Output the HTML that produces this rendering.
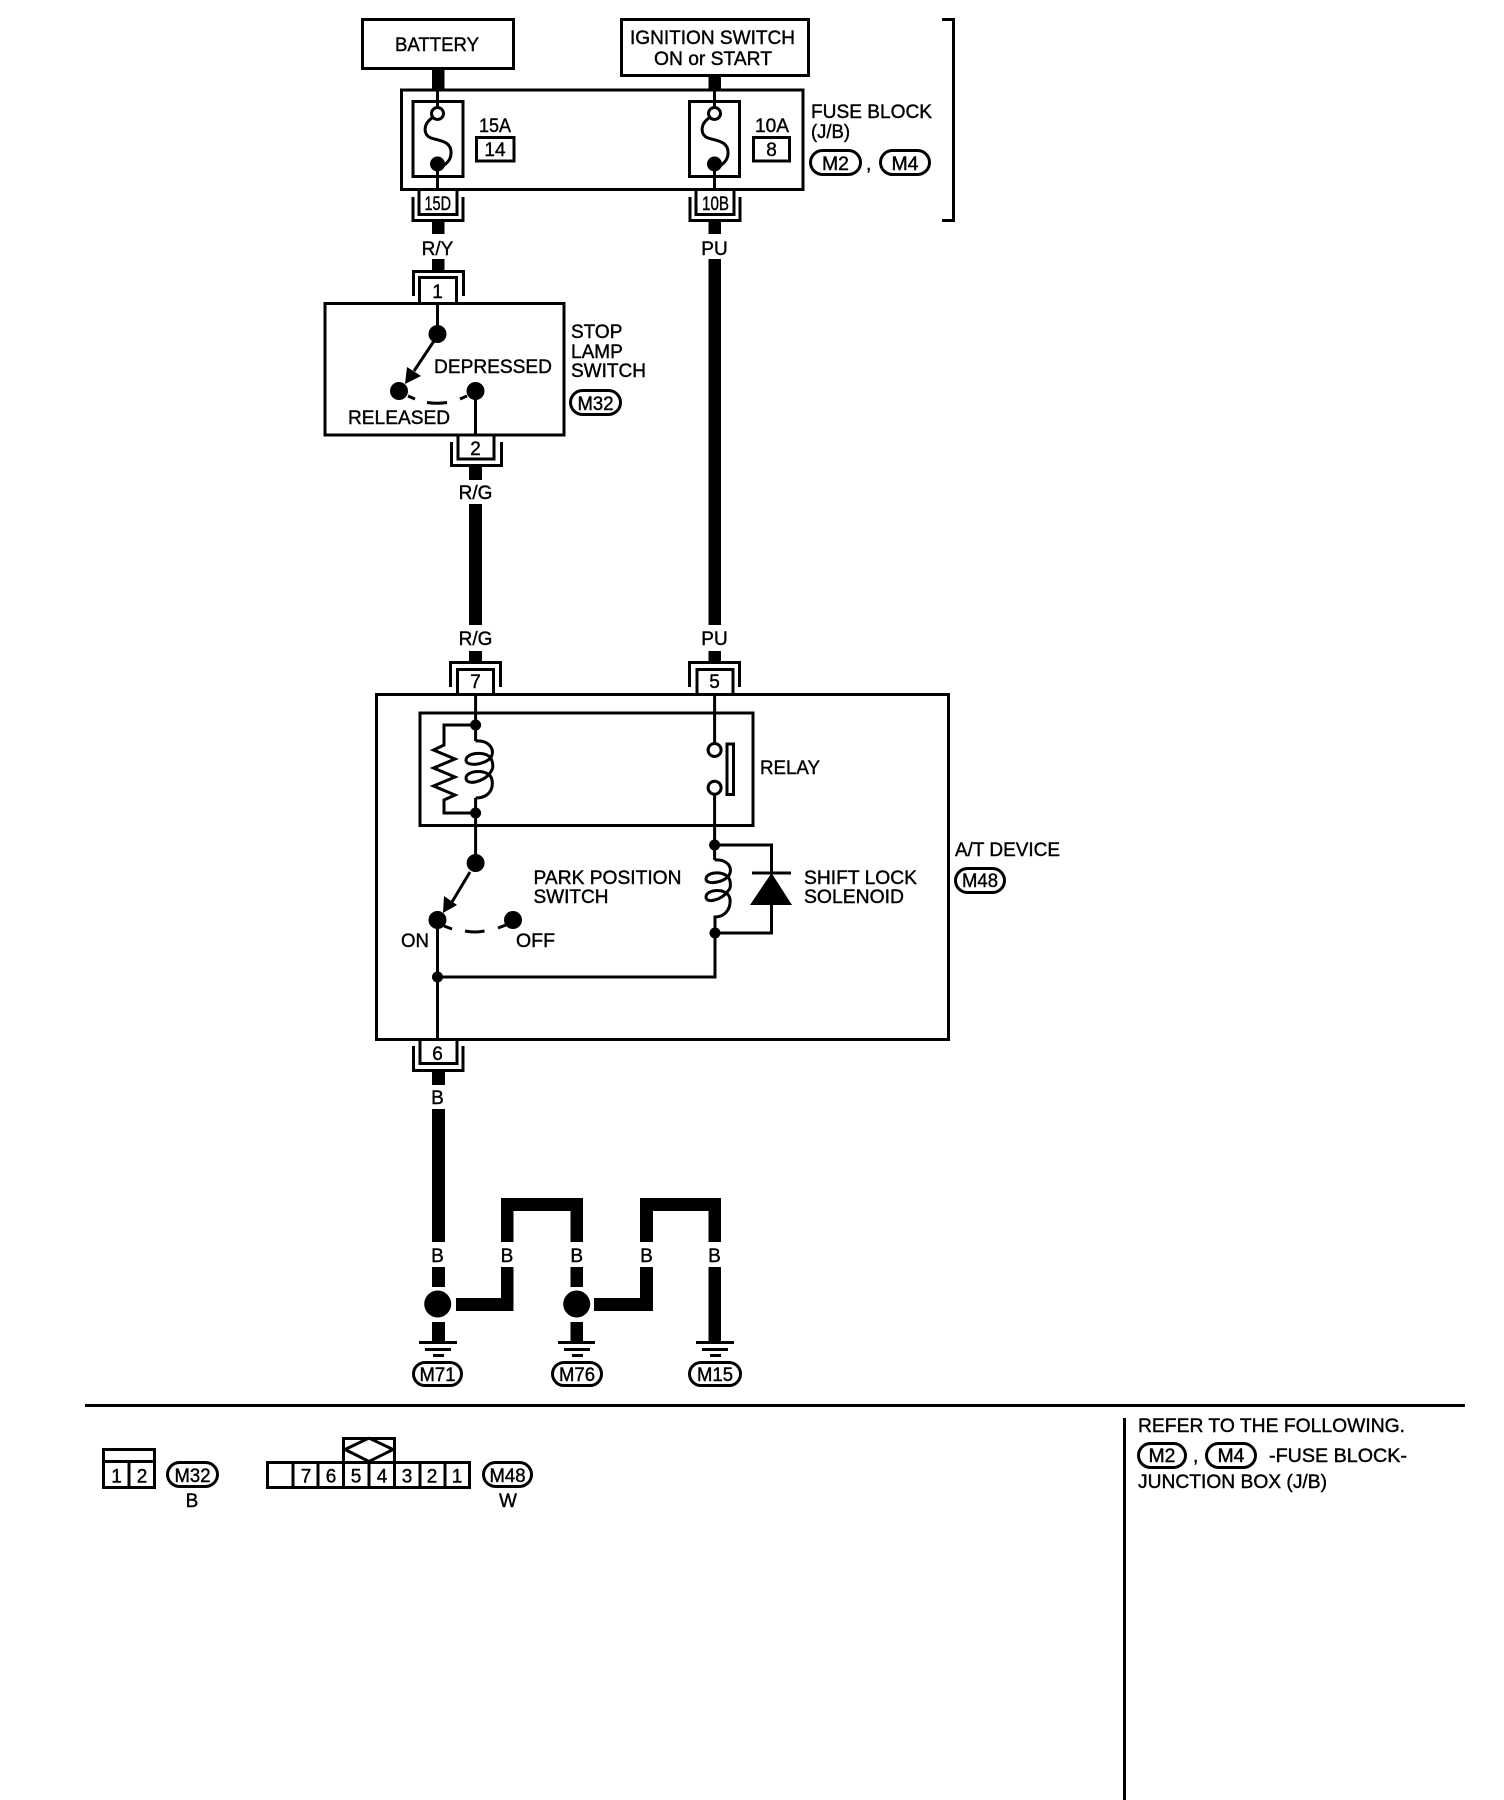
<!DOCTYPE html>
<html><head><meta charset="utf-8"><style>
html,body{margin:0;padding:0;background:#fff}
svg{display:block}
text{font-family:"Liberation Sans",sans-serif;font-size:19px;fill:#000;stroke:#000;stroke-width:.4}
.m{text-anchor:middle}
.l{fill:none;stroke:#000;stroke-width:3}
.t{fill:none;stroke:#000;stroke-width:3}
.p{fill:#fff;stroke:#000;stroke-width:3}
</style></head><body>
<svg width="1504" height="1800" viewBox="0 0 1504 1800" xmlns="http://www.w3.org/2000/svg">
<rect width="1504" height="1800" fill="#fff"/>
<!-- thick wires -->
<g fill="#000">
<rect x="432" y="70" width="12.5" height="20"/><rect x="708.5" y="77" width="12.5" height="13"/>
<rect x="432" y="222" width="12.5" height="12"/><rect x="708.5" y="222" width="12.5" height="12"/>
<rect x="432" y="259" width="12.5" height="12"/><rect x="708.5" y="259" width="12.5" height="366"/>
<rect x="469" y="467" width="13" height="13"/><rect x="469" y="504" width="13" height="121"/>
<rect x="469" y="651" width="13" height="11"/><rect x="708.5" y="651" width="12.5" height="11"/>
<rect x="432" y="1072" width="13" height="13"/><rect x="432" y="1109" width="13" height="133"/>
<rect x="432" y="1267" width="13" height="20"/><rect x="432" y="1322" width="13" height="20"/>
<rect x="456" y="1298" width="57" height="13"/><rect x="501" y="1267" width="12.5" height="44"/>
<path d="M501 1242V1198H583V1242H570.500V1211H513.500V1242Z"/>
<rect x="570.500" y="1267" width="12.500" height="20"/><rect x="570.500" y="1322" width="12.500" height="20"/>
<rect x="594" y="1298" width="59" height="13"/><rect x="640" y="1267" width="13" height="44"/>
<path d="M640 1242V1198H721V1242H708.500V1211H653V1242Z"/>
<rect x="708.500" y="1267" width="12.500" height="75"/>
<circle cx="437.700" cy="1304" r="13.500"/><circle cx="576.700" cy="1304" r="13.500"/>
<!-- grounds -->
<rect x="419" y="1341" width="38" height="3"/><rect x="425" y="1348" width="26" height="3"/><rect x="433" y="1354" width="11" height="3"/>
<rect x="558" y="1341" width="37" height="3"/><rect x="564" y="1348" width="26" height="3"/><rect x="572" y="1354" width="11" height="3"/>
<rect x="696" y="1341" width="38" height="3"/><rect x="702" y="1348" width="26" height="3"/><rect x="710" y="1354" width="11" height="3"/>
</g>
<!-- top boxes -->
<rect class="l" x="362.500" y="19.500" width="151" height="49"/>
<rect class="l" x="621.500" y="19.500" width="187" height="56"/>
<path class="l" d="M942 19.500H953.500V220.500H942"/>
<rect class="l" x="401.500" y="90" width="401.500" height="99.500"/>
<rect class="l" x="413" y="101.500" width="50" height="75"/>
<rect class="l" x="689.500" y="101.500" width="50" height="75"/>
<rect class="l" x="476.500" y="137.500" width="37.500" height="23.500"/>
<rect class="l" x="753.500" y="137.500" width="36" height="23.500"/>
<!-- fuses -->
<g class="t">
<path d="M437.500 90V107M437.500 170V191"/><path d="M714.500 90V107M714.500 170V191"/>
<circle cx="437.500" cy="113.500" r="6"/><circle cx="714.500" cy="113.500" r="6"/>
<path d="M432 118C423 124 423 135 431 138C440 141 452 141 451 154C450.500 160 447 163 443 166"/>
<path d="M709 118C700 124 700 135 708 138C717 141 729 141 728 154C727.500 160 724 163 720 166"/>
</g>
<circle cx="437.500" cy="164" r="7.500"/><circle cx="714.500" cy="164" r="7.500"/>
<!-- connectors -->
<g class="l">
<path d="M419 191V214.500H457V191"/><path d="M413 197V220.500H463V197"/>
<path d="M696 191V214.500H734V191"/><path d="M690 197V220.500H740V197"/>
<path d="M419.500 302V277.500H456.500V302"/><path d="M413.500 296V271.500H463.500V296"/>
<path d="M458 436V459H494V436"/><path d="M451.500 442V465.500H501.500V442"/>
<path d="M457.500 693V669.500H493.500V693"/><path d="M450.500 687V662.500H500.500V687"/>
<path d="M697 693V669.500H733V693"/><path d="M689.500 687V662.500H739.500V687"/>
<path d="M420 1040V1063.500H457V1040"/><path d="M413.500 1046V1070.500H463V1046"/>
</g>
<!-- stop lamp switch -->
<rect class="l" x="325" y="303.500" width="239" height="131.500"/>
<path class="t" d="M437.500 303V333M475.500 391V436"/>
<circle cx="437.500" cy="334" r="9"/><circle cx="399" cy="391" r="9"/><circle cx="475.500" cy="391" r="9"/>
<path class="t" d="M434 341L414 371"/>
<path d="M405 384L407 367L421 376Z"/>
<path class="t" d="M408 396L415 399M427 402.500Q437 404 447 402.500M460 399L467 396"/>
<!-- AT device -->
<rect class="l" x="376.500" y="694.500" width="572" height="345"/>
<rect class="l" x="420" y="713" width="333" height="112.500"/>
<g class="t">
<path d="M475.600 694V741M475.600 798V864"/>
<path d="M475.600 725H444V745L433.500 750L455 759L433.500 768L455 777L433.500 786L455 795L444 800V813H475.600"/>
<path d="M475.600 741C488 740 494 748 492 755C490 764 466 768 466 760C466 752 490 750 492 761C494 768 492 770 490 773C484 782 466 786 466 778C466 770 490 768 492 780C494 792 486 798 475.600 798"/>
<path d="M714.600 694V743M714.600 795V860"/>
<circle cx="714.600" cy="750" r="6.500"/><circle cx="714.600" cy="787.700" r="6.500"/>
<rect x="727" y="744" width="6.500" height="50.500"/>
<path d="M714.600 845H771.500V873M771.500 905V933H715"/>
<path d="M714.600 860C726 859 732 866 730 873C728 882 706 886 706 879C706 871 728 870 730 881C731 887 730 889 728 891C722 900 706 904 706 897C706 889 728 887 730 899C731 910 724 917 715 917V977H437.500"/>
<path d="M437.500 920V1040"/>
<path d="M470 872L452 902"/>
<path d="M444 926L452 929M465 931Q475 933 484.500 931M498 928L506 925"/>
</g>
<path d="M752 873H791" stroke="#000" stroke-width="3"/>
<path d="M771.500 873L750 905H792Z"/>
<circle cx="475.600" cy="725" r="5.500"/><circle cx="475.600" cy="813" r="5.500"/>
<circle cx="714.600" cy="845" r="5.500"/><circle cx="715" cy="933" r="5.500"/><circle cx="437.500" cy="977" r="5.500"/>
<circle cx="475.600" cy="863" r="9"/><circle cx="437.500" cy="920" r="9"/><circle cx="513" cy="920" r="9"/>
<path d="M443 913L444 896L457 905Z"/>
<!-- separators -->
<rect x="85" y="1404" width="1380" height="3"/>
<rect x="1123" y="1418" width="3" height="382"/>
<!-- bottom connectors -->
<g class="l">
<rect x="103.500" y="1449.500" width="51" height="38"/><path d="M103.500 1461.500H154.500M129 1461.500V1487"/>
<rect x="267.500" y="1462.500" width="202" height="25"/>
<path d="M293 1462V1488M318 1462V1488M343.500 1462V1488M369 1462V1488M394.500 1462V1488M420 1462V1488M445 1462V1488"/>
<rect x="343.500" y="1438.500" width="51" height="24"/>
<path d="M345 1449.500L369 1438M393 1449.500L369 1461.500L345 1449.500M369 1438L393 1449.500"/>
</g>
<!-- pills -->
<g class="p">
<rect x="810.500" y="150.500" width="50" height="24" rx="12"/><rect x="880.500" y="150.500" width="49" height="24" rx="12"/>
<rect x="570.500" y="390.500" width="50" height="24" rx="12"/>
<rect x="955.500" y="868.500" width="49" height="24" rx="12"/>
<rect x="413.500" y="1362.500" width="48" height="23" rx="11.500"/><rect x="552.500" y="1362.500" width="49" height="23" rx="11.500"/><rect x="689.500" y="1362.500" width="51" height="23" rx="11.500"/>
<rect x="167.500" y="1462.500" width="50" height="24" rx="12"/><rect x="483.500" y="1462.500" width="48" height="24" rx="12"/>
<rect x="1138.500" y="1443.500" width="47" height="24" rx="12"/><rect x="1206.500" y="1443.500" width="49" height="24" rx="12"/>
</g>
<!-- labels -->
<text x="395" y="51" textLength="84" lengthAdjust="spacingAndGlyphs">BATTERY</text>
<text x="630" y="44" textLength="165" lengthAdjust="spacingAndGlyphs">IGNITION SWITCH</text>
<text x="654" y="65" textLength="118" lengthAdjust="spacingAndGlyphs">ON or START</text>
<text x="479" y="132" textLength="32" lengthAdjust="spacingAndGlyphs">15A</text>
<text x="755" y="132" textLength="34" lengthAdjust="spacingAndGlyphs">10A</text>
<text x="495" y="156" class="m">14</text><text x="771.500" y="156" class="m">8</text>
<text x="811" y="118" textLength="121" lengthAdjust="spacingAndGlyphs">FUSE BLOCK</text>
<text x="811" y="138" textLength="39" lengthAdjust="spacingAndGlyphs">(J/B)</text>
<text x="835.500" y="170" class="m" textLength="27" lengthAdjust="spacingAndGlyphs">M2</text>
<text x="866" y="170">,</text>
<text x="905" y="170" class="m" textLength="27" lengthAdjust="spacingAndGlyphs">M4</text>
<text x="424.500" y="210" textLength="26.500" lengthAdjust="spacingAndGlyphs">15D</text>
<text x="702" y="210" textLength="27" lengthAdjust="spacingAndGlyphs">10B</text>
<text x="437.500" y="255" class="m">R/Y</text><text x="714.500" y="255" class="m">PU</text>
<text x="437.500" y="298" class="m">1</text><text x="475.500" y="455" class="m">2</text>
<text x="434" y="373" textLength="118" lengthAdjust="spacingAndGlyphs">DEPRESSED</text>
<text x="348" y="424" textLength="102" lengthAdjust="spacingAndGlyphs">RELEASED</text>
<text x="571" y="338">STOP</text><text x="571" y="358">LAMP</text><text x="571" y="377" textLength="75" lengthAdjust="spacingAndGlyphs">SWITCH</text>
<text x="595.500" y="410" class="m" textLength="36" lengthAdjust="spacingAndGlyphs">M32</text>
<text x="475.500" y="499" class="m">R/G</text>
<text x="475.500" y="645" class="m">R/G</text><text x="714.500" y="645" class="m">PU</text>
<text x="475.500" y="688" class="m">7</text><text x="714.500" y="688" class="m">5</text>
<text x="760" y="774" textLength="60" lengthAdjust="spacingAndGlyphs">RELAY</text>
<text x="955" y="856" textLength="105" lengthAdjust="spacingAndGlyphs">A/T DEVICE</text>
<text x="980" y="887" class="m" textLength="36" lengthAdjust="spacingAndGlyphs">M48</text>
<text x="533.500" y="884" textLength="148" lengthAdjust="spacingAndGlyphs">PARK POSITION</text>
<text x="533.500" y="903" textLength="75" lengthAdjust="spacingAndGlyphs">SWITCH</text>
<text x="804" y="884" textLength="113" lengthAdjust="spacingAndGlyphs">SHIFT LOCK</text>
<text x="804" y="903" textLength="100" lengthAdjust="spacingAndGlyphs">SOLENOID</text>
<text x="401" y="947" textLength="28" lengthAdjust="spacingAndGlyphs">ON</text>
<text x="516" y="947" textLength="39" lengthAdjust="spacingAndGlyphs">OFF</text>
<text x="437.500" y="1060" class="m">6</text>
<text x="437.500" y="1104" class="m">B</text>
<text x="437.500" y="1262" class="m">B</text><text x="507" y="1262" class="m">B</text><text x="576.700" y="1262" class="m">B</text><text x="646.500" y="1262" class="m">B</text><text x="714.500" y="1262" class="m">B</text>
<text x="437.500" y="1381" class="m" textLength="36" lengthAdjust="spacingAndGlyphs">M71</text>
<text x="577" y="1381" class="m" textLength="36" lengthAdjust="spacingAndGlyphs">M76</text>
<text x="715" y="1381" class="m" textLength="36" lengthAdjust="spacingAndGlyphs">M15</text>
<text x="116.500" y="1482.500" class="m">1</text><text x="142" y="1482.500" class="m">2</text>
<text x="192.500" y="1482" class="m" textLength="36" lengthAdjust="spacingAndGlyphs">M32</text>
<text x="192" y="1507" class="m">B</text>
<text x="306" y="1482.500" class="m">7</text><text x="331" y="1482.500" class="m">6</text><text x="356" y="1482.500" class="m">5</text><text x="382" y="1482.500" class="m">4</text><text x="407" y="1482.500" class="m">3</text><text x="432" y="1482.500" class="m">2</text><text x="457" y="1482.500" class="m">1</text>
<text x="507.500" y="1482" class="m" textLength="36" lengthAdjust="spacingAndGlyphs">M48</text>
<text x="508" y="1507" class="m">W</text>
<text x="1138" y="1432" textLength="267" lengthAdjust="spacingAndGlyphs">REFER TO THE FOLLOWING.</text>
<text x="1162" y="1462" class="m" textLength="27" lengthAdjust="spacingAndGlyphs">M2</text>
<text x="1193" y="1462">,</text>
<text x="1231" y="1462" class="m" textLength="27" lengthAdjust="spacingAndGlyphs">M4</text>
<text x="1269" y="1462" textLength="138" lengthAdjust="spacingAndGlyphs">-FUSE BLOCK-</text>
<text x="1138" y="1488" textLength="189" lengthAdjust="spacingAndGlyphs">JUNCTION BOX (J/B)</text>
</svg>
</body></html>
